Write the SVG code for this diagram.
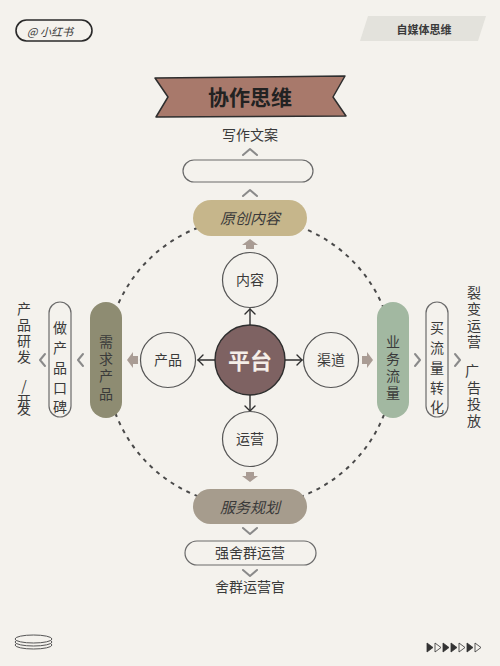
<svg xmlns="http://www.w3.org/2000/svg" width="500" height="666" viewBox="0 0 500 666">
<defs>
<style>
text{font-family:"Noto Sans CJK SC","Noto Sans",sans-serif;fill:#3a3a3a;dominant-baseline:central;text-anchor:middle}
.lbl{font-size:14px}
.v{font-size:14px}
.outline{fill:none;stroke:#6a6a6a;stroke-width:1.2}
.circ{fill:#f4f2ed;stroke:#555;stroke-width:1.2}
.chev{fill:none;stroke:#8a8a8a;stroke-width:2;stroke-linecap:round;stroke-linejoin:round}
.thin{fill:none;stroke:#2e2e2e;stroke-width:1.4;stroke-linecap:round;stroke-linejoin:round}
.fat{fill:#a99c94}
</style>
</defs>
<rect width="500" height="666" fill="#f4f2ed"/>

<g id="badge">
<rect x="16" y="20" width="76" height="21" rx="10.5" fill="none" stroke="#2a2a2a" stroke-width="1.6"/>
<text x="50" y="30.5" style="font-size:11px;font-style:italic">@ 小红书</text>
</g>
<g id="tag">
<polygon points="368,16 486,16 478,41 360,41" fill="#e3e2dc"/>
<text x="424" y="29" style="font-size:11px;font-weight:bold">自媒体思维</text>
</g>

<g id="title">
<polygon points="155,78 345,76 333,97 346,116 156,117 168,97" fill="#a8796b" stroke="#2e2e2e" stroke-width="1.5" stroke-linejoin="round"/>
<text x="250" y="96" style="font-size:21px;font-weight:bold;fill:#222">协作思维</text>
</g>

<g id="top-chain">
<text x="250" y="134" class="lbl">写作文案</text>
<rect x="183" y="160" width="130" height="22" rx="11" class="outline"/>
</g>

<g id="ring">
<circle cx="250" cy="362" r="144" fill="none" stroke="#4a4a4a" stroke-width="2" stroke-dasharray="4 5"/>
</g>

<g id="connectors">
<polyline class="chev" points="243,155 250,149 257,155"/>
<polyline class="chev" points="243,196 250,190 257,196"/>
<polyline class="chev" points="243,528 250,534 257,528"/>
<polyline class="chev" points="243,570 250,576 257,570"/>
<polyline class="chev" points="83,354 78,360 83,366"/>
<polyline class="chev" points="45,354 40,360 45,366"/>
<polyline class="chev" points="415,354 420,360 415,366"/>
<polyline class="chev" points="455,354 460,360 455,366"/>
<line x1="250" y1="325" x2="250" y2="309" class="thin"/>
<polyline class="thin" points="245,314 250,309 255,314"/>
<line x1="250" y1="395" x2="250" y2="411" class="thin"/>
<polyline class="thin" points="245,406 250,411 255,406"/>
<line x1="215" y1="360" x2="198" y2="360" class="thin"/>
<polyline class="thin" points="203,355 198,360 203,365"/>
<line x1="285" y1="360" x2="302" y2="360" class="thin"/>
<polyline class="thin" points="297,355 302,360 297,365"/>
<polygon class="fat" points="250,239 258,245 254,245 254,249 246,249 246,245 242,245"/>
<polygon class="fat" points="250,482 258,476 254,476 254,472 246,472 246,476 242,476"/>
<polygon class="fat" points="127,360 133,352 133,356 138,356 138,364 133,364 133,368"/>
<polygon class="fat" points="373,360 367,352 367,356 362,356 362,364 367,364 367,368"/>
</g>

<g id="platform">
<circle cx="250" cy="360" r="35" fill="#7e6262" stroke="#2e2e2e" stroke-width="1.4"/>
<text x="250" y="359" style="font-size:22px;font-weight:bold;fill:#f4eee8">平台</text>
</g>
<g id="content"><circle cx="250" cy="280" r="27.5" class="circ"/><text x="250" y="279" class="lbl">内容</text></g>
<g id="ops"><circle cx="250" cy="439" r="27.5" class="circ"/><text x="250" y="438" class="lbl">运营</text></g>
<g id="product"><circle cx="168" cy="360" r="27.5" class="circ"/><text x="168" y="359" class="lbl">产品</text></g>
<g id="channel"><circle cx="331" cy="360" r="27.5" class="circ"/><text x="331" y="359" class="lbl">渠道</text></g>

<g id="original">
<rect x="193" y="200" width="114" height="36" rx="18" fill="#c6b68b"/>
<text x="250" y="217" style="font-size:15px;font-style:italic">原创内容</text>
</g>
<g id="service">
<rect x="193" y="489" width="114" height="35" rx="17.5" fill="#a69c8d"/>
<text x="250" y="506" style="font-size:15px;font-style:italic">服务规划</text>
</g>
<g id="demand">
<rect x="90" y="302" width="32" height="116" rx="16" fill="#8e8c72"/>
<text x="106" class="v"><tspan x="106" y="341">需</tspan><tspan x="106" y="358">求</tspan><tspan x="106" y="375">产</tspan><tspan x="106" y="393">品</tspan></text>
</g>
<g id="traffic">
<rect x="377" y="302" width="32" height="116" rx="16" fill="#a2b8a1"/>
<text x="393" class="v"><tspan x="393" y="341">业</tspan><tspan x="393" y="358">务</tspan><tspan x="393" y="375">流</tspan><tspan x="393" y="392">量</tspan></text>
</g>

<g id="reputation">
<rect x="49" y="302" width="22" height="115" rx="11" class="outline"/>
<text class="v"><tspan x="60" y="327">做</tspan><tspan x="60" y="347">产</tspan><tspan x="60" y="367">品</tspan><tspan x="60" y="387">口</tspan><tspan x="60" y="406">碑</tspan></text>
</g>
<g id="rnd">
<text class="v"><tspan x="24" y="308">产</tspan><tspan x="24" y="324">品</tspan><tspan x="24" y="340">研</tspan><tspan x="24" y="356">发</tspan><tspan x="24" y="385">/</tspan></text>
<text x="24" y="400" class="v">开</text>
<text x="24" y="408" class="v">发</text>
</g>

<g id="buy">
<rect x="426" y="302" width="22" height="115" rx="11" class="outline"/>
<text class="v"><tspan x="437" y="327">买</tspan><tspan x="437" y="347">流</tspan><tspan x="437" y="367">量</tspan><tspan x="437" y="387">转</tspan><tspan x="437" y="406">化</tspan></text>
</g>
<g id="growth">
<text class="v"><tspan x="474" y="292">裂</tspan><tspan x="474" y="308">变</tspan><tspan x="474" y="325">运</tspan><tspan x="474" y="341">营</tspan></text>
<text class="v"><tspan x="472" y="370">广</tspan><tspan x="474" y="387">告</tspan><tspan x="474" y="403">投</tspan><tspan x="474" y="420">放</tspan></text>
</g>

<g id="community">
<rect x="185" y="541" width="131" height="24" rx="12" class="outline"/>
<text x="250" y="552" class="lbl">强舍群运营</text>
<text x="250" y="586" class="lbl">舍群运营官</text>
</g>

<g id="coins" fill="none" stroke="#555" stroke-width="1">
<ellipse cx="33.5" cy="645" rx="18.5" ry="4"/>
<ellipse cx="33.5" cy="642" rx="18.5" ry="4" fill="#f4f2ed"/>
<ellipse cx="33.5" cy="639" rx="18.5" ry="4" fill="#f4f2ed"/>
</g>
<g id="triangles" stroke="#333" stroke-width="0.8">
<polygon points="427,643 427,652 433,647.5" fill="#333"/>
<polygon points="435,643 435,652 441,647.5" fill="none"/>
<polygon points="443,643 443,652 449,647.5" fill="#333"/>
<polygon points="451,643 451,652 457,647.5" fill="#333"/>
<polygon points="459,643 459,652 465,647.5" fill="none"/>
<polygon points="467,643 467,652 473,647.5" fill="#333"/>
<polygon points="475,643 475,652 481,647.5" fill="none"/>
</g>
</svg>
